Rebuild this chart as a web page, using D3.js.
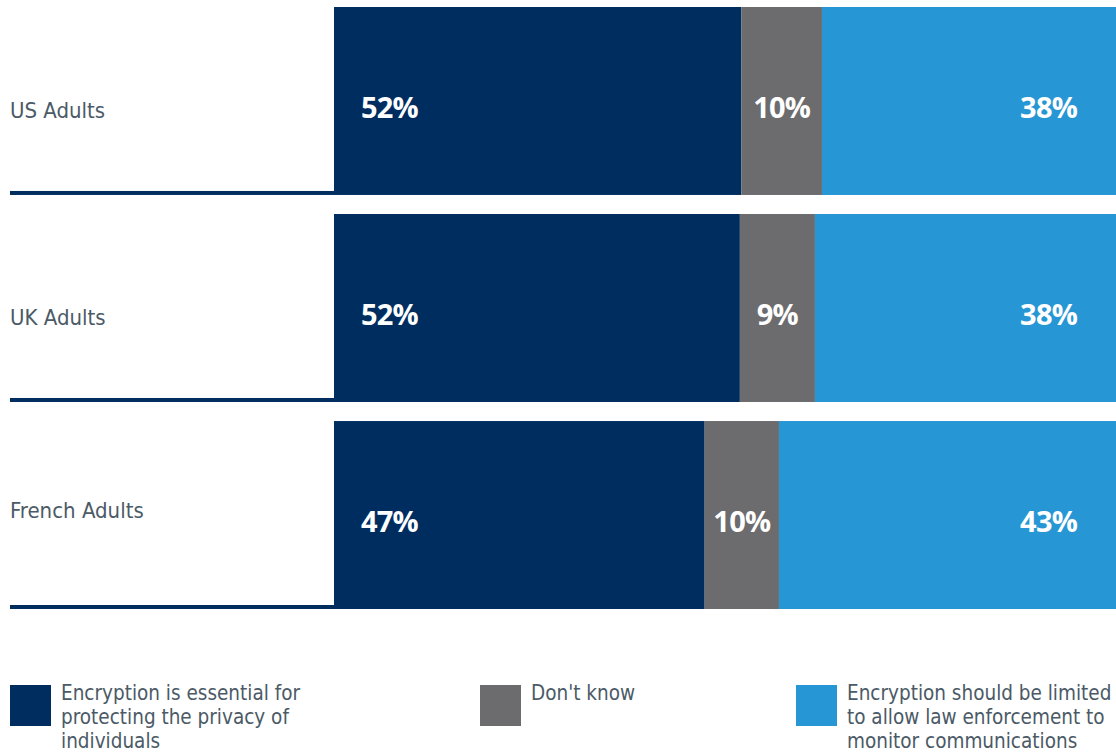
<!DOCTYPE html>
<html>
<head>
<meta charset="utf-8">
<script src="https://cdn.jsdelivr.net/npm/d3@7"></script>
<style>
  body { margin: 0; background: #fff; }
  svg { display: block; }
</style>
</head>
<body>
<div id="chart"></div>
<script>
const groups = ['US Adults', 'UK Adults', 'French Adults'];
const seriesNames = [
  'Encryption is essential for protecting the privacy of individuals',
  "Don't know",
  'Encryption should be limited to allow law enforcement to monitor communications'
];
// values
const essential = [52.1, 51.9, 47.4];
const dontKnow = [10.3, 9.6, 9.5];
const limited = [37.6, 38.5, 43.1];
// printed labels
const essentialLabels = ['52%', '52%', '47%'];
const dontKnowLabels = ['10%', '9%', '10%'];
const limitedLabels = ['38%', '38%', '43%'];

const legendLines = [
  ['Encryption is essential for', 'protecting the privacy of', 'individuals'],
  ["Don't know"],
  ['Encryption should be limited', 'to allow law enforcement to', 'monitor communications']
];

const colors = ['#002d5f', '#6c6b6d', '#2796d5'];

const width = 1116;
const height = 756;
const margin = { top: 7, left: 334, right: 0 };

const svg = d3.select('#chart')
  .append('svg')
  .attr('width', width)
  .attr('height', height);

const rows = groups.map((g, i) => ({
  group: g,
  vals: [essential[i], dontKnow[i], limited[i]],
  labels: [essentialLabels[i], dontKnowLabels[i], limitedLabels[i]]
}));

const x = d3.scaleLinear()
  .domain([0, 100])
  .range([margin.left, width - margin.right]);

const y = d3.scaleBand()
  .domain(groups)
  .range([margin.top, 609])
  .paddingInner(0.092)
  .paddingOuter(0);

const row = svg.selectAll('g.row')
  .data(rows)
  .join('g')
  .attr('class', 'row')
  .attr('transform', d => `translate(0,${y(d.group)})`);

// underline below category name
row.append('rect')
  .attr('x', 10)
  .attr('y', y.bandwidth() - 4)
  .attr('width', margin.left - 10)
  .attr('height', 4)
  .attr('fill', colors[0]);

row.append('text')
  .attr('x', 10)
  .attr('y', (d, i) => y.bandwidth() / 2 + (i === 2 ? -3 : 11))
  .attr('dominant-baseline', 'middle')
  .attr('font-family', 'DejaVu Sans Condensed, sans-serif')
  .attr('font-size', 22)
  .attr('fill', '#4b5a66')
  .text(d => d.group);

row.each(function (d) {
  const g = d3.select(this);
  const stack = [];
  let acc = 0;
  d.vals.forEach((v, k) => {
    stack.push({ k, x0: acc, x1: acc + v, label: d.labels[k] });
    acc += v;
  });

  g.selectAll('rect.seg')
    .data(stack)
    .join('rect')
    .attr('class', 'seg')
    .attr('x', s => x(s.x0))
    .attr('y', 0)
    .attr('width', s => x(s.x1) - x(s.x0))
    .attr('height', y.bandwidth())
    .attr('fill', s => colors[s.k]);

  g.selectAll('text.val')
    .data(stack)
    .join('text')
    .attr('class', 'val')
    .attr('x', s => s.k === 0 ? x(s.x0) + 27 : s.k === 1 ? (x(s.x0) + x(s.x1)) / 2 : x(s.x1) - 39)
    .attr('y', y.bandwidth() / 2 + 9)
    .attr('dominant-baseline', 'middle')
    .attr('text-anchor', s => s.k === 0 ? 'start' : s.k === 1 ? 'middle' : 'end')
    .attr('font-family', 'Open Sans, sans-serif')
    .attr('font-weight', 'bold')
    .attr('font-size', 29)
    .attr('letter-spacing', -0.8)
    .attr('fill', '#fff')
    .text(s => s.label);
});

// legend
const legendX = [10, 480, 796];
const legend = svg.selectAll('g.legend')
  .data(seriesNames)
  .join('g')
  .attr('class', 'legend')
  .attr('transform', (d, i) => `translate(${legendX[i]},685)`);

legend.append('rect')
  .attr('width', 41)
  .attr('height', 41)
  .attr('fill', (d, i) => colors[i]);

legend.append('text')
  .attr('font-family', 'DejaVu Sans Condensed, sans-serif')
  .attr('font-size', 20.5)
  .attr('fill', '#4b5a66')
  .selectAll('tspan')
  .data((d, i) => legendLines[i])
  .join('tspan')
  .attr('x', 51)
  .attr('y', (l, j) => 15 + j * 24)
  .text(l => l);
</script>
</body>
</html>
